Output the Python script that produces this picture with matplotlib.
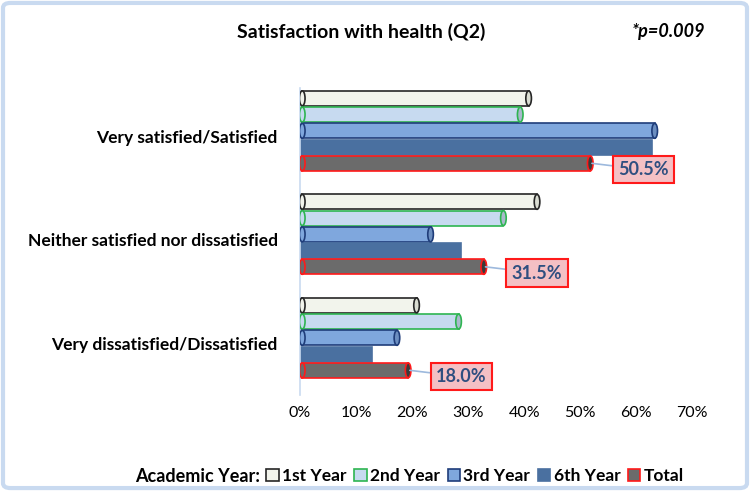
import numpy as np
import matplotlib.pyplot as plt
from matplotlib.patches import Ellipse, FancyBboxPatch

# data (percent)
categories = ['Very satisfied/Satisfied', 'Neither satisfied nor dissatisfied', 'Very dissatisfied/Dissatisfied']
series = ['1st Year', '2nd Year', '3rd Year', '6th Year', 'Total']
year1 = [39.5, 41.0, 19.5]
year2 = [38.0, 35.0, 27.0]
year3 = [62.0, 22.0, 16.0]
year6 = [61.5, 27.5, 11.5]
total = [50.5, 31.5, 18.0]

faces = ['#F2F4EC', '#C7DAF0', '#7FA7DD', '#4A70A0', '#6B6B6B']
edges = ['#262626', '#2EB551', '#1F3D7A', '#4A70A0', '#FF1A1A']
caps = ['#DADDD2', '#A9B9CC', '#6C8EC0', '#3E5F8A', '#3A3A3A']
depth = 1.3   # 3d cylinder look: drawn a bit past the value

plt.rcParams['font.family'] = ['Lato', 'DejaVu Sans']

fig = plt.figure(figsize=(7.5, 4.91), dpi=100)
ax = fig.add_axes([0.40, 0.196, 0.523, 0.625])

# light blue rounded frame
fig.patches.append(FancyBboxPatch((0.004, 0.006), 0.992, 0.988, boxstyle='round,pad=0,rounding_size=0.01',
                                  transform=fig.transFigure, fc='none', ec='#C9DAF0', lw=3))

h = 0.157
pos = np.arange(len(categories))
vals = [year1, year2, year3, year6, total]
for i, (v, fc, ec, cc, lab) in enumerate(zip(vals, faces, edges, caps, series)):
    y = pos + (i - 2) * h
    ax.barh(y, np.array(v) + depth, height=h * 0.92, color=fc, edgecolor=ec, lw=1.2, label=lab, zorder=2)
    if i != 3:
        for yy, vv in zip(y, v):
            ax.add_patch(Ellipse((vv + depth, yy), 1.0, h * 0.92, fc=cc, ec=ec, lw=1.2, zorder=3))
            ax.add_patch(Ellipse((0.4, yy), 1.0, h * 0.92, fc=fc, ec=ec, lw=1.2, zorder=3))

# labels for the total bars
for yy, vv in zip(pos + 2 * h, total):
    ax.annotate(f'{vv:.1f}%', xy=(vv + depth + 0.3, yy), xytext=(vv + 10.8, yy + 0.06),
                ha='center', va='center', fontsize=13, fontweight='bold', color='#2F4F80',
                bbox=dict(boxstyle='square,pad=0.3', fc='#F4C0C4', ec='#FF1A1A', lw=1.5),
                arrowprops=dict(arrowstyle='-', color='#9DB9DD', lw=1.2, shrinkA=0, shrinkB=0), zorder=5)

ax.set_xlim(0, 70)
ax.set_ylim(2.55, -0.415)
ax.set_xticks(np.arange(0, 71, 10))
ax.set_xticklabels([f'{t}%' for t in range(0, 71, 10)], fontsize=11.5)
ax.set_yticks(pos + 0.05)
ax.set_yticklabels(categories, fontsize=12.5, fontweight='bold')
ax.tick_params(length=0, pad=8)
ax.tick_params(axis='y', pad=16)
for s in ['top', 'right', 'bottom']:
    ax.spines[s].set_visible(False)
ax.spines['left'].set_color('#C9DAF0')
ax.spines['left'].set_linewidth(1.2)

fig.text(0.482, 0.935, 'Satisfaction with health (Q2)', ha='center', va='center', fontsize=14, fontweight='bold')
fig.text(0.891, 0.935, '*p=0.009', ha='center', va='center', fontsize=13, fontweight='bold', style='italic')

fig.text(0.347, 0.03, 'Academic Year:', ha='right', va='center', fontsize=13, fontweight='bold')
fig.legend(loc='center left', bbox_to_anchor=(0.346, 0.03), ncol=5, frameon=False,
           prop={'size': 12.5, 'weight': 'bold'}, handlelength=0.7, handleheight=0.7,
           handletextpad=0.2, columnspacing=0.45, borderaxespad=0)

fig.savefig('out.png', dpi=100)
